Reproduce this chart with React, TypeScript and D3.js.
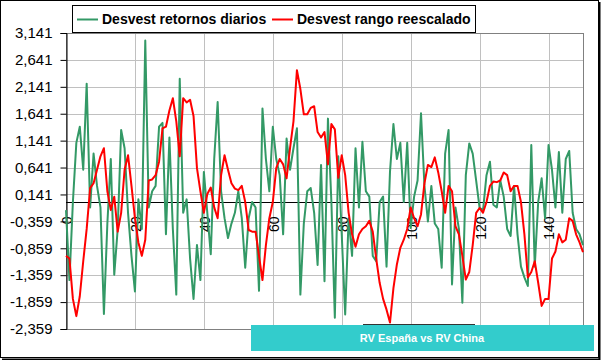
import React, { useEffect, useRef } from "react";
import * as d3 from "d3";

// daily returns std dev (green)
const retornosDiarios = [
  -0.15, -1.45, 0.0, 1.1, 1.4, 0.6, 2.2, -0.1, 0.9, 0.3,
  -0.1, -2.08, -0.4, 0.8, -1.35, -0.5, 1.34, 1.0, -0.2, -1.0,
  -1.66, 0.05, -0.5, 3.0, -0.1, 0.2, 0.3, 1.4, 1.47, -0.6,
  1.2, -0.5, -1.72, 2.29, -0.2, 0.05, -1.05, -1.8, -0.8, -1.45,
  0.56, -0.2, -0.97, 0.8, 1.86, 0.2, -0.3, -0.67, -0.4, -0.2,
  0.2, -0.3, -1.22, -0.3, 0.0, -0.1, -1.65, 1.74, 0.8, 0.2,
  1.4, 0.8, 0.5, -0.6, 1.18, 0.6, 1.0, 1.37, -1.72, -0.4,
  0.2, 0.26, -0.2, -1.17, 0.69, -1.47, 1.55, 0.0, -2.15, 0.85,
  -0.6, -2.09, -0.3, -1.0, 1.0, -0.1, 1.12, 0.2, 0.1, -1.0,
  -1.1, 0.0, 0.1, -1.2, 0.56, 1.45, 0.8, 1.1, 0.0, 1.1,
  -0.48, 0.1, 0.4, 1.65, 0.3, -0.36, 0.3, -0.4, -0.5, -1.22,
  0.9, 1.34, -1.53, -0.1, -0.5, -1.87, 0.5, 1.09, 0.9, 0.4,
  -0.11, -0.15, 0.5, 0.75, -0.05, -0.1, 0.4, 0.1, -0.5, -0.63,
  0.3, -0.6, -1.2, -1.4, -1.56, 1.06, -1.2, 0.0, 0.44, -0.3,
  1.06, 0.6, -0.1, 0.93, -0.2, 0.8, 0.95, -0.2, -0.5, -0.6, -0.8,
];

// rescaled range std dev (red)
const rangoReescalado = [
  -1.0, -1.05, -1.8, -2.12, -1.75, -1.1, -0.5, 0.26, 0.35, 0.6,
  0.85, 1.0, 0.2, -0.15, 0.1, -0.55, -0.2, 0.6, 0.87, 0.3,
  -0.3, -0.75, -1.0, -0.7, 0.4, 0.42, 0.5, 0.75, 1.37, 1.4,
  1.7, 1.93, 1.5, 0.85, 1.93, 1.85, 1.9, 1.6, 0.63, 0.2,
  -0.2, 0.15, 0.27, -0.1, -0.3, 0.5, 0.87, 0.6, 0.35, 0.25,
  0.22, 0.3, 0.0, -0.52, -0.55, -0.55, -1.0, -1.45, -0.8, -0.3,
  0.0, 0.63, 0.8, 0.7, 0.44, 1.0, 1.5, 2.45, 2.1, 1.63,
  1.63, 1.75, 1.78, 1.3, 1.2, 1.3, 0.7, 1.45, 1.35, 0.45,
  0.87, 0.5, -0.2, -0.6, -0.83, -0.6, -0.5, -0.45, -0.35, -0.55,
  -1.05, -1.5, -1.8, -2.0, -2.24, -1.6, -1.16, -0.85, -0.7, -0.5,
  -0.1, -0.3, -0.45, -0.23, 0.35, 0.69, 0.65, 0.83, 0.55, 0.2,
  -0.2, 0.3, 0.2, -0.45, -0.6, -1.0, -1.44, -1.3, -0.8, -0.2,
  -0.11, -0.2, 0.0, 0.3, 0.38, 0.37, 0.4, 0.55, 0.5, 0.2,
  0.3, 0.3, 0.0, -0.6, -1.4, -1.3, -1.1, -1.5, -1.93, -1.8,
  -1.8, -1.05, -0.92, -0.6, -0.75, -0.7, -0.3, -0.35, -0.6, -0.75, -0.93,
];

const yTicks = [3.141, 2.641, 2.141, 1.641, 1.141, 0.641, 0.141, -0.359, -0.859, -1.359, -1.859, -2.359];
const xLabels = [0, 20, 40, 60, 80, 100, 120, 140];
const seriesNames = ["Desvest retornos diarios", "Desvest rango reescalado"];
const seriesColors = ["#339966", "#ff0000"];
const title = "RV España vs RV China";

const FONT = "'Liberation Sans', Arial, sans-serif";

const App = () => {
  const svgRef = useRef(null);

  useEffect(() => {
    const svg = d3.select(svgRef.current);
    svg.selectAll("*").remove();

    const width = 601,
      height = 360;
    const margin = { top: 33, right: 18, bottom: 31, left: 66 };

    svg.attr("width", width).attr("height", height).style("display", "block");

    // chart area + border
    svg.append("rect")
      .attr("x", 0.5).attr("y", 0.5)
      .attr("width", 598).attr("height", 357)
      .attr("fill", "#fff")
      .attr("stroke", "#000");
    svg.append("path")
      .attr("d", "M599.5,2V359.5H2")
      .attr("fill", "none")
      .attr("stroke", "#000")
      .attr("stroke-width", 2);

    const categories = retornosDiarios.map((_, i) => i);
    const x = d3.scalePoint()
      .domain(categories)
      .range([margin.left, width - margin.right]);
    const y = d3.scaleLinear()
      .domain([yTicks[yTicks.length - 1], yTicks[0]])
      .range([height - margin.bottom, margin.top]);

    const x0 = margin.left, x1 = width - margin.right;
    const yTop = margin.top, yBot = height - margin.bottom;

    // gridlines
    svg.append("g")
      .selectAll("line")
      .data(yTicks.slice(1))
      .enter()
      .append("line")
      .attr("x1", x0).attr("x2", x1)
      .attr("y1", (d) => Math.round(y(d)) + 0.5)
      .attr("y2", (d) => Math.round(y(d)) + 0.5)
      .attr("stroke", "#c0c0c0");
    svg.append("g")
      .selectAll("line")
      .data(xLabels.slice(1))
      .enter()
      .append("line")
      .attr("x1", (d) => Math.round(x(d)) + 0.5)
      .attr("x2", (d) => Math.round(x(d)) + 0.5)
      .attr("y1", yTop).attr("y2", yBot)
      .attr("stroke", "#c0c0c0");

    // plot area border
    svg.append("rect")
      .attr("x", x0 + 0.5).attr("y", yTop + 0.5)
      .attr("width", x1 - x0).attr("height", yBot - yTop)
      .attr("fill", "none")
      .attr("stroke", "#808080");

    // y axis
    const yAxis = svg.append("g")
      .attr("transform", `translate(${x0 + 0.5},0)`)
      .call(
        d3.axisLeft(y)
          .tickValues(yTicks)
          .tickSize(6)
          .tickPadding(8)
          .tickFormat((d) => d.toFixed(3).replace(".", ","))
      );
    yAxis.select(".domain").attr("stroke", "#000");
    yAxis.selectAll(".tick line").attr("stroke", "#000");
    yAxis.selectAll("text")
      .attr("font-family", FONT)
      .attr("font-size", 15)
      .attr("fill", "#000");

    // horizontal axis crossing at 0
    const yZero = Math.round(y(0)) + 0.5;
    svg.append("line")
      .attr("x1", x0).attr("x2", x1)
      .attr("y1", yZero).attr("y2", yZero)
      .attr("stroke", "#000");

    svg.append("g")
      .selectAll("text")
      .data(xLabels)
      .enter()
      .append("text")
      .attr("transform", (d) => `translate(${x(d) + 1},${yZero + 14}) rotate(-90)`)
      .attr("text-anchor", "end")
      .attr("dy", "0.35em")
      .attr("font-family", FONT)
      .attr("font-size", 14)
      .attr("fill", "#000")
      .text((d) => d);

    // lines
    const line = d3.line()
      .x((d, i) => x(i))
      .y((d) => y(d));

    [retornosDiarios, rangoReescalado].forEach((s, k) => {
      svg.append("path")
        .datum(s)
        .attr("d", line)
        .attr("fill", "none")
        .attr("stroke", seriesColors[k])
        .attr("stroke-width", 2)
        .attr("stroke-linejoin", "round");
    });

    // legend
    const legend = svg.append("g");
    legend.append("rect")
      .attr("x", 72.5).attr("y", 5.5)
      .attr("width", 403).attr("height", 27)
      .attr("fill", "#fff")
      .attr("stroke", "#000");
    const legendX = [77, 272];
    seriesNames.forEach((name, k) => {
      legend.append("line")
        .attr("x1", legendX[k]).attr("x2", legendX[k] + 21)
        .attr("y1", 19.5).attr("y2", 19.5)
        .attr("stroke", seriesColors[k])
        .attr("stroke-width", 2);
      legend.append("text")
        .attr("x", legendX[k] + 25)
        .attr("y", 19)
        .attr("dy", "0.35em")
        .attr("font-family", FONT)
        .attr("font-size", 14)
        .attr("font-weight", "bold")
        .attr("fill", "#000")
        .text(name);
    });

    // title box
    svg.append("line")
      .attr("x1", 363).attr("x2", 475)
      .attr("y1", 324.5).attr("y2", 324.5)
      .attr("stroke", "#333");
    svg.append("rect")
      .attr("x", 251).attr("y", 325)
      .attr("width", 343).attr("height", 26)
      .attr("fill", "#33cccc");
    svg.append("text")
      .attr("x", 422)
      .attr("y", 338)
      .attr("dy", "0.35em")
      .attr("text-anchor", "middle")
      .attr("font-family", FONT)
      .attr("font-size", 11)
      .attr("font-weight", "bold")
      .attr("fill", "#fff")
      .text(title);
  }, []);

  return (
    <div>
      <style>{`body { margin: 0; }`}</style>
      <svg ref={svgRef}></svg>
    </div>
  );
};

export default App;
